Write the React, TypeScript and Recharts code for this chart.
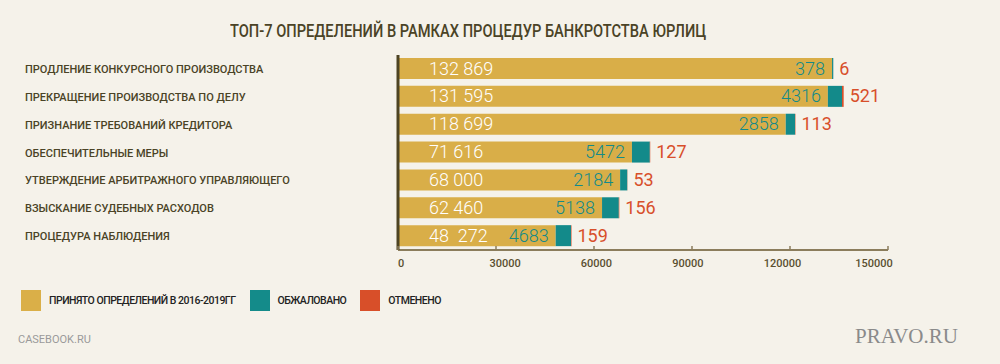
import React from 'react';
import { BarChart, Bar, XAxis, YAxis, LabelList } from 'recharts';

const categories = [
  'ПРОДЛЕНИЕ КОНКУРСНОГО ПРОИЗВОДСТВА',
  'ПРЕКРАЩЕНИЕ ПРОИЗВОДСТВА ПО ДЕЛУ',
  'ПРИЗНАНИЕ ТРЕБОВАНИЙ КРЕДИТОРА',
  'ОБЕСПЕЧИТЕЛЬНЫЕ МЕРЫ',
  'УТВЕРЖДЕНИЕ АРБИТРАЖНОГО УПРАВЛЯЮЩЕГО',
  'ВЗЫСКАНИЕ СУДЕБНЫХ РАСХОДОВ',
  'ПРОЦЕДУРА НАБЛЮДЕНИЯ',
];
const accepted = [132869, 131595, 118699, 71616, 68000, 62460, 48272];
const acceptedLabels = ['132 869', '131 595', '118 699', '71 616', '68 000', '62 460', '48  272'];
const appealed = [378, 4316, 2858, 5472, 2184, 5138, 4683];
const cancelled = [6, 521, 113, 127, 53, 156, 159];
const xTicks = [0, 30000, 60000, 90000, 120000, 150000];

const legendItems = [
  { label: 'ПРИНЯТО ОПРЕДЕЛЕНИЙ В 2016-2019ГГ', color: '#DAAF48' },
  { label: 'ОБЖАЛОВАНО', color: '#148B8A' },
  { label: 'ОТМЕНЕНО', color: '#D84F29' },
];

const GOLD = '#D9AE48';
const TEAL = '#138A8A';
const RED = '#D84F2A';
const INK = '#4A4326';
const BG = '#F5F2EA';
const PLOT_LEFT = 398;

const data = categories.map((name, i) => ({
  name,
  accepted: accepted[i],
  appealed: appealed[i],
  cancelled: cancelled[i],
}));

const valueFont = { fontFamily: 'Roboto', fontWeight: 300, fontSize: 18 };

const CategoryTick = (props: any) => (
  <text x={25} y={props.y} dy={4} fontFamily="Roboto" fontWeight={500} fontSize={11} fill={INK}>
    {props.payload.value}
  </text>
);

const ValueTick = (props: any) => {
  const { x, y, payload } = props;
  // labels in the original are spread a little tighter than the ticks
  const tx = PLOT_LEFT + (x - PLOT_LEFT) * 0.933;
  return (
    <g>
      <line x1={x} x2={x} y1={y - 4} y2={y} stroke="#8B7D5C" strokeWidth={1.5} />
      <text x={tx} y={y + 17} fontFamily="Roboto" fontWeight={500} fontSize={11} fill="#5A4F30">
        {payload.value}
      </text>
    </g>
  );
};

const AcceptedLabel = (props: any) => {
  const { x, y, height, index } = props;
  return (
    <text x={x + 31} y={y + height / 2} dy={6} fill="#FFFFFF" style={{ ...valueFont, whiteSpace: 'pre' }}>
      {acceptedLabels[index]}
    </text>
  );
};

const AppealedLabel = (props: any) => {
  const { x, y, height, value } = props;
  return (
    <text x={x - 7} y={y + height / 2} dy={6} textAnchor="end" fill={TEAL} style={valueFont}>
      {value}
    </text>
  );
};

const CancelledLabel = (props: any) => {
  const { x, y, width, height, value } = props;
  return (
    <text x={x + width + 6} y={y + height / 2} dy={6} fill={RED} style={{ ...valueFont, fontWeight: 400 }}>
      {value}
    </text>
  );
};

export default function App() {
  return (
    <div style={{ position: 'absolute', left: 0, top: 0, width: 1000, height: 364, background: BG, overflow: 'hidden' }}>
      <div
        style={{
          position: 'absolute', left: 230, top: 20, fontFamily: 'Roboto', fontWeight: 500,
          fontSize: 18, color: INK, whiteSpace: 'nowrap', transform: 'scaleX(0.814)', transformOrigin: 'left top',
        }}
      >
        ТОП-7 ОПРЕДЕЛЕНИЙ В РАМКАХ ПРОЦЕДУР БАНКРОТСТВА ЮРЛИЦ
      </div>
      <BarChart
        width={1000}
        height={364}
        data={data}
        layout="vertical"
        margin={{ top: 55, right: 112, bottom: 84, left: 0 }}
        barSize={21}
      >
        <XAxis
          type="number"
          domain={[0, 150000]}
          ticks={xTicks}
          height={30}
          tickSize={0}
          tickMargin={0}
          axisLine={{ stroke: '#8B7D5C', strokeWidth: 2 }}
          tick={<ValueTick />}
          interval={0}
        />
        <YAxis
          type="category"
          dataKey="name"
          width={PLOT_LEFT}
          tickLine={false}
          axisLine={{ stroke: '#4D4423', strokeWidth: 3 }}
          tick={<CategoryTick />}
          interval={0}
        />
        <Bar dataKey="accepted" stackId="a" fill={GOLD} isAnimationActive={false}>
          <LabelList dataKey="accepted" content={<AcceptedLabel />} />
        </Bar>
        <Bar dataKey="appealed" stackId="a" fill={TEAL} isAnimationActive={false}>
          <LabelList dataKey="appealed" content={<AppealedLabel />} />
        </Bar>
        <Bar dataKey="cancelled" stackId="a" fill={RED} isAnimationActive={false}>
          <LabelList dataKey="cancelled" content={<CancelledLabel />} />
        </Bar>
      </BarChart>
      <div
        style={{
          position: 'absolute', left: 21, top: 290, display: 'flex', alignItems: 'center',
          fontFamily: 'Roboto', fontWeight: 500, fontSize: 10.5, letterSpacing: -0.5, color: '#222',
        }}
      >
        {legendItems.map((item) => (
          <div key={item.label} style={{ display: 'flex', alignItems: 'center', marginRight: 14 }}>
            <div style={{ width: 20, height: 21, background: item.color, marginRight: 8 }} />
            <span>{item.label}</span>
          </div>
        ))}
      </div>
      <div style={{ position: 'absolute', left: 18, top: 333, fontFamily: 'Roboto', fontSize: 11, color: '#9A9A9A' }}>
        CASEBOOK.RU
      </div>
      <div style={{ position: 'absolute', left: 855, top: 324, fontFamily: 'Liberation Serif', fontSize: 21, color: '#8A8A8A' }}>
        PRAVO.RU
      </div>
    </div>
  );
}
